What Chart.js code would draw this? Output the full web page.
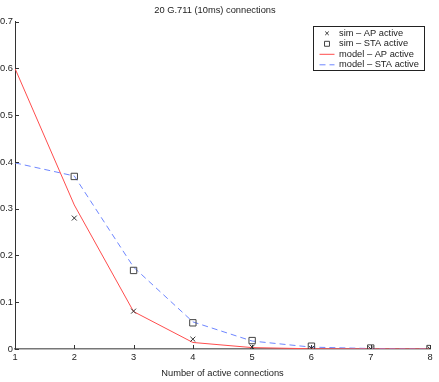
<!DOCTYPE html>
<html>
<head>
<meta charset="utf-8">
<script src="https://cdn.jsdelivr.net/npm/chart.js@4.4.0/dist/chart.umd.min.js"></script>
<style>
  html, body { margin: 0; padding: 0; background: #fff; }
  #wrap { width: 439px; height: 382px; position: relative; }
</style>
</head>
<body>
<div id="wrap"><canvas id="chart"></canvas></div>
<script>
// valeurs
const connections = [1, 2, 3, 4, 5, 6, 7, 8];
const simAP = [null, 0.28, 0.081, 0.021, 0.004, 0.001, 0.0005, 0.0002];
const simSTA = [null, 0.369, 0.168, 0.056, 0.018, 0.006, 0.002, 0.001];
const modelAP = [0.6, 0.308, 0.08, 0.014, 0.003, 0.0005, 0.0001, 0];
const modelSTA = [0.398, 0.37, 0.175, 0.058, 0.017, 0.004, 0.001, 0.0002];
const yTicks = [0, 0.1, 0.2, 0.3, 0.4, 0.5, 0.6, 0.7];

const FONT = "'Liberation Sans', Arial, sans-serif";
const FS = 9.3;

function toPoints(values) {
    return connections.map((c, i) => ({ x: c, y: values[i] }));
}

// petits traits de graduation vers l'intérieur (style matlab)
const innerTicks = {
    id: 'innerTicks',
    afterDraw(chart) {
        const ctx = chart.ctx;
        const xs = chart.scales.x, ys = chart.scales.y;
        const area = chart.chartArea;
        ctx.save();
        ctx.strokeStyle = '#333';
        ctx.lineWidth = 1;
        xs.ticks.forEach(t => {
            const px = Math.round(xs.getPixelForValue(t.value)) + 0.5;
            ctx.beginPath();
            ctx.moveTo(px, area.bottom);
            ctx.lineTo(px, area.bottom - 4);
            ctx.stroke();
        });
        ys.ticks.forEach(t => {
            const py = Math.round(ys.getPixelForValue(t.value)) + 0.5;
            ctx.beginPath();
            ctx.moveTo(area.left, py);
            ctx.lineTo(area.left + 4, py);
            ctx.stroke();
        });
        ctx.restore();
    }
};

// légende encadrée en haut à droite
const boxLegend = {
    id: 'boxLegend',
    afterDraw(chart) {
        const ctx = chart.ctx;
        const x0 = 313.5, y0 = 26.5, w = 111, h = 44;
        ctx.save();
        ctx.fillStyle = '#fff';
        ctx.fillRect(x0, y0, w, h);
        ctx.strokeStyle = '#222';
        ctx.lineWidth = 1;
        ctx.strokeRect(x0, y0, w, h);
        ctx.font = FS + 'px ' + FONT;
        ctx.textBaseline = 'middle';
        chart.data.datasets.forEach((ds, i) => {
            const cy = y0 + 6.8 + i * 10.5;
            if (ds.showLine === false) {
                ctx.fillStyle = 'rgba(0,0,0,0)';
                ctx.strokeStyle = ds.pointBorderColor;
                ctx.lineWidth = 1;
                Chart.helpers.drawPoint(ctx, {
                    pointStyle: ds.pointStyle,
                    radius: ds.pointRadius - 1,
                    borderWidth: 1
                }, x0 + 13.5, cy);
            } else {
                ctx.beginPath();
                ctx.strokeStyle = ds.borderColor;
                ctx.lineWidth = ds.borderWidth;
                ctx.setLineDash(ds.borderDash || []);
                ctx.moveTo(x0 + 6, cy);
                ctx.lineTo(x0 + 21, cy);
                ctx.stroke();
                ctx.setLineDash([]);
            }
            ctx.fillStyle = '#222';
            ctx.fillText(ds.label, x0 + 25.5, cy);
        });
        ctx.restore();
    }
};

new Chart(document.getElementById('chart'), {
    type: 'line',
    data: {
        datasets: [
            {
                label: 'sim \u2013 AP active',
                data: toPoints(simAP),
                showLine: false,
                pointStyle: 'crossRot',
                pointRadius: 3.5,
                pointBorderColor: '#333',
                pointBackgroundColor: 'transparent',
                pointBorderWidth: 1
            },
            {
                label: 'sim \u2013 STA active',
                data: toPoints(simSTA),
                showLine: false,
                pointStyle: 'rect',
                pointRadius: 4.5,
                pointBorderColor: '#444',
                pointBackgroundColor: 'transparent',
                pointBorderWidth: 1
            },
            {
                label: 'model \u2013 AP active',
                data: toPoints(modelAP),
                borderColor: '#ff4d4d',
                borderWidth: 1,
                pointRadius: 0,
                tension: 0
            },
            {
                label: 'model \u2013 STA active',
                data: toPoints(modelSTA),
                borderColor: '#6e86ff',
                borderWidth: 1,
                borderDash: [6, 4],
                pointRadius: 0,
                tension: 0
            }
        ]
    },
    options: {
        responsive: true,
        maintainAspectRatio: false,
        animation: false,
        layout: { padding: { right: 9, top: 0, left: 0, bottom: 0 } },
        plugins: {
            legend: { display: false },
            tooltip: { enabled: false },
            title: {
                display: true,
                text: '20 G.711 (10ms) connections',
                color: '#222',
                font: { family: FONT, size: FS, weight: 'normal' },
                padding: { top: 5, bottom: 5.5 }
            }
        },
        scales: {
            x: {
                type: 'linear',
                min: 1,
                max: 8,
                ticks: {
                    stepSize: 1,
                    color: '#222',
                    padding: 3,
                    font: { family: FONT, size: FS }
                },
                grid: { drawOnChartArea: false, drawTicks: false },
                border: { color: '#777', width: 1.5 },
                title: {
                    display: true,
                    text: 'Number of active connections',
                    color: '#222',
                    font: { family: FONT, size: FS },
                    padding: { top: 0, bottom: 2.5 }
                },
                afterFit(scale) { scale.height = 33; }
            },
            y: {
                min: 0,
                max: 0.7,
                afterBuildTicks(scale) {
                    scale.ticks = yTicks.map(v => ({ value: v }));
                },
                ticks: {
                    color: '#222',
                    padding: 2,
                    font: { family: FONT, size: FS }
                },
                grid: { drawOnChartArea: false, drawTicks: false },
                border: { color: '#333', width: 1 },
                afterFit(scale) { scale.width = 15; }
            }
        }
    },
    plugins: [innerTicks, boxLegend]
});
</script>
</body>
</html>
